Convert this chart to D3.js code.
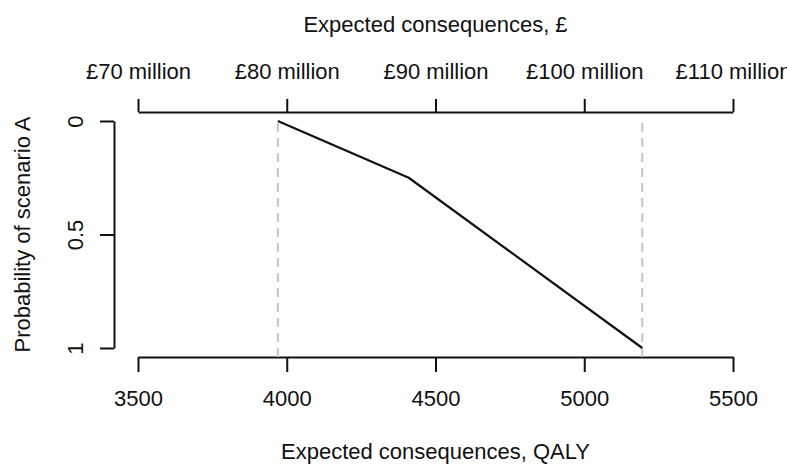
<!DOCTYPE html>
<html>
<head>
<meta charset="utf-8">
<script src="https://cdn.jsdelivr.net/npm/d3@7"></script>
<style>
  html, body { margin: 0; padding: 0; background: #fff; }
  svg { display: block; font-family: "Liberation Sans", Arial, Helvetica, sans-serif; }
</style>
</head>
<body>
<svg id="chart" width="787" height="464"></svg>
<script>
// Expected consequences (QALY) against probability of scenario A
const qalyValues = [3970, 4410, 5195];
const probValues = [0, 0.25, 1];
const boundaryValues = [3970, 5195];

const qalyTicks = [3500, 4000, 4500, 5000, 5500];
const poundTicks = [70, 80, 90, 100, 110];
const poundTickLabels = ["£70 million", "£80 million", "£90 million", "£100 million", "£110 million"];
const probTicks = [0, 0.5, 1];
const probTickLabels = ["0", "0.5", "1"];

const W = 787, H = 464;
const fontSize = 22;
const ink = "#111";

const svg = d3.select("#chart");

const x = d3.scaleLinear().domain([3500, 5500]).range([138, 733]);
const xPound = d3.scaleLinear().domain([70, 110]).range([138, 733]);
const y = d3.scaleLinear().domain([0, 1]).range([121, 348]);

// plot region edges (4% padding of the y range)
const plotTop = y(-0.04), plotBottom = y(1.04);

function styleAxis(g) {
  g.selectAll("path.domain").attr("stroke", ink).attr("stroke-width", 2);
  g.selectAll(".tick line").attr("stroke", ink).attr("stroke-width", 2);
  g.selectAll(".tick text")
    .attr("fill", ink)
    .style("font-size", fontSize + "px")
    .style("font-family", "'Liberation Sans', Arial, Helvetica, sans-serif");
}

// bottom axis, QALY
const gBottom = svg.append("g")
  .attr("transform", `translate(0,${plotBottom})`)
  .call(d3.axisBottom(x).tickValues(qalyTicks).tickFormat(d3.format("d"))
    .tickSizeInner(15).tickSizeOuter(0).tickPadding(18));
styleAxis(gBottom);

// top axis, pounds
const gTop = svg.append("g")
  .attr("transform", `translate(0,${plotTop})`)
  .call(d3.axisTop(xPound).tickValues(poundTicks)
    .tickFormat((d, i) => poundTickLabels[i])
    .tickSizeInner(13).tickSizeOuter(0).tickPadding(20));
styleAxis(gTop);

// left axis, probability (labels rotated)
const gLeft = svg.append("g")
  .attr("transform", `translate(114,0)`)
  .call(d3.axisLeft(y).tickValues(probTicks)
    .tickFormat((d, i) => probTickLabels[i])
    .tickSizeInner(14).tickSizeOuter(0));
styleAxis(gLeft);
gLeft.selectAll(".tick text")
  .attr("x", null).attr("dy", null)
  .attr("text-anchor", "middle")
  .attr("transform", "translate(-31,0) rotate(-90)");

// vertical boundary lines, dashed grey
svg.append("g").selectAll("line")
  .data(boundaryValues)
  .join("line")
  .attr("x1", d => x(d)).attr("x2", d => x(d))
  .attr("y1", plotBottom).attr("y2", plotTop + 6)
  .attr("stroke", "#c4c4c4")
  .attr("stroke-width", 2)
  .attr("stroke-dasharray", "9,6");

// the curve
const line = d3.line().x(d => x(d[0])).y(d => y(d[1]));
svg.append("path")
  .datum(qalyValues.map((v, i) => [v, probValues[i]]))
  .attr("d", line)
  .attr("fill", "none")
  .attr("stroke", ink)
  .attr("stroke-width", 2.2)
  .attr("stroke-linejoin", "round");

// axis titles
const midX = (x.range()[0] + x.range()[1]) / 2;
svg.append("text")
  .attr("x", midX).attr("y", 32)
  .attr("text-anchor", "middle")
  .attr("fill", ink).style("font-size", fontSize + "px")
  .text("Expected consequences, £");

svg.append("text")
  .attr("x", midX).attr("y", 459)
  .attr("text-anchor", "middle")
  .attr("fill", ink).style("font-size", fontSize + "px")
  .text("Expected consequences, QALY");

svg.append("text")
  .attr("transform", `translate(30,${(plotTop + plotBottom) / 2}) rotate(-90)`)
  .attr("text-anchor", "middle")
  .attr("fill", ink).style("font-size", fontSize + "px")
  .text("Probability of scenario A");
</script>
</body>
</html>
